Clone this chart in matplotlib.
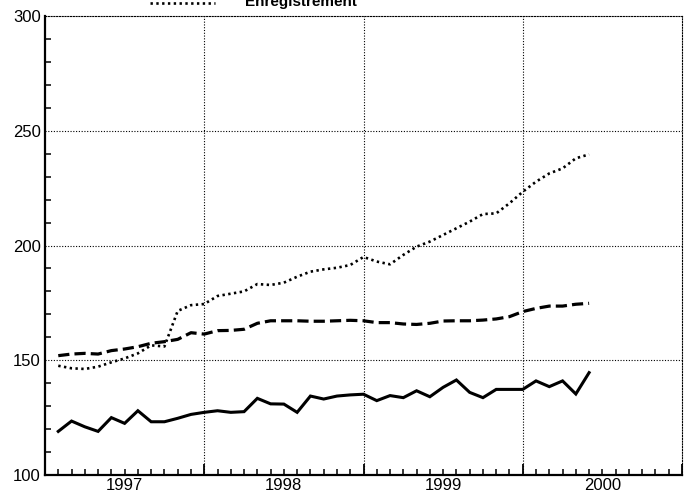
import numpy as np
import matplotlib
matplotlib.use("Agg")
import matplotlib.pyplot as plt
from matplotlib.lines import Line2D
plt.rcParams['font.family'] = 'Liberation Sans'

# months counted from January 1997 (0 = Jan 1997); data run Feb 1997 - Jun 2000
months = np.arange(1, 42)
year_labels = ["1997", "1998", "1999", "2000"]
year_centres = [6, 18, 30, 42]

solid = [119, 123.5, 121, 119, 125, 122.5, 128, 123.2, 123.2, 124.7,
         126.4, 127.3, 128, 127.3, 127.6, 133.4, 131, 130.9, 127.3, 134.4,
         133.1, 134.4, 134.9, 135.2, 132.4, 134.6, 133.7, 136.7, 134.1, 138.2,
         141.4, 136, 133.7, 137.3, 137.3, 137.3, 141, 138.5, 141, 135.3, 144.6]
dashed = [152, 152.7, 153, 152.7, 154.2, 154.9, 155.9, 157.4, 158.1, 159.1,
          162, 161.4, 162.9, 163, 163.5, 166.1, 167.2, 167.2, 167.2, 167,
          167, 167.2, 167.4, 167.2, 166.4, 166.4, 165.8, 165.6, 166.1, 167.1,
          167.2, 167.2, 167.5, 168, 169, 171.2, 172.6, 173.6, 173.6, 174.4, 174.8]
dotted = [147.6, 146.5, 146.2, 147.2, 149.1, 150.8, 153, 156.5, 156, 171.5,
          174, 174.5, 178, 179, 180, 183.2, 182.8, 183.8, 186.4, 188.6,
          189.6, 190.3, 191.5, 195, 193, 191.8, 195.9, 199.5, 201.7, 204.6,
          207.5, 210.4, 213.7, 214, 218.4, 223.4, 227.8, 231.4, 233.6, 238, 239.7]

fig = plt.figure(figsize=(6.86, 4.95), dpi=100)
ax = fig.add_axes([45/686, 20/495, 637/686, 459/495])

ax.plot(months, solid, color="black", lw=2.2, solid_joinstyle="miter")
ax.plot(months, dashed, color="black", lw=2.3, linestyle=(0, (3.5, 1.6)))
ax.plot(months, dotted, color="black", lw=1.9, linestyle=(0, (0.9, 1.3)))

ax.set_xlim(0, 48)
ax.set_ylim(100, 300)

# grid: dotted lines at the year boundaries and every 50
for x in [12, 24, 36]:
    ax.axvline(x, color="black", lw=0.8, linestyle=(0, (1, 1.5)), zorder=0)
for y in [150, 200, 250]:
    ax.axhline(y, color="black", lw=0.8, linestyle=(0, (1, 1.5)), zorder=0)

for s in ["top", "right"]:
    ax.spines[s].set_linestyle((0, (1, 1.5)))
    ax.spines[s].set_linewidth(0.8)
for s in ["left", "bottom"]:
    ax.spines[s].set_linewidth(1.6)

ax.set_xticks([0, 12, 24, 36, 48])
ax.set_xticks(np.arange(0, 49), minor=True)
ax.set_xticklabels([])
ax.tick_params(axis="x", which="major", direction="in", length=8, width=1.3)
ax.tick_params(axis="x", which="minor", direction="in", length=4, width=1.1)

ax.set_yticks([100, 150, 200, 250, 300])
ax.set_yticks(np.arange(100, 301, 10), minor=True)
ax.tick_params(axis="y", which="major", direction="in", length=0, pad=3, labelsize=12)
ax.tick_params(axis="y", which="minor", direction="in", length=4, width=1.1)

for lab, c in zip(year_labels, year_centres):
    ax.text(c, -0.006, lab, transform=ax.get_xaxis_transform(),
            ha="center", va="top", fontsize=12)

# legend entry, its top cut off by the page edge as in the scan
fig.add_artist(Line2D([150/686, 215/686], [1 - 3/495, 1 - 3/495],
                      color="black", lw=1.9, linestyle=(0, (0.9, 1.3))))
fig.text(245/686, 1 - 6/495, "Enregistrement", fontsize=11,
         fontweight="bold", ha="left", va="baseline")

fig.savefig("out.png", dpi=100)
